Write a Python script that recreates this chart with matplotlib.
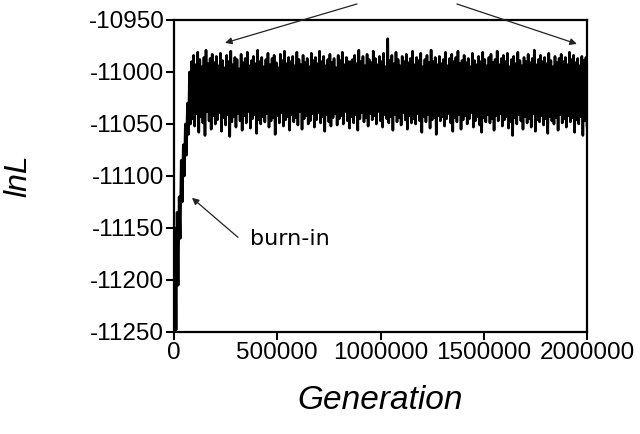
import matplotlib
matplotlib.use("Agg")
import matplotlib.pyplot as plt
import numpy as np

# MCMC trace: lnL sampled every 5000 generations
sample_every = 5000

# burn-in samples, generation 0 .. 80000
burnin = [-11262, -11150, -11248, -11135, -11205, -11120, -11160, -11085, -11125,
          -11070, -11100, -11050, -11080, -11030, -11060, -11000, -11050]

# stationary phase: local highs and lows of the trace (they alternate)
peaks = [
    -10990, -10984, -10993, -10981, -10988, -10995, -10986, -10979, -10992, -10987, -10983, -10991,
    -10985, -10994, -10982, -10989, -10996, -10984, -10990, -10980, -10993, -10986, -10988, -10997,
    -10983, -10991, -10987, -10981, -10994, -10989, -10985, -10992, -10979, -10990, -10986, -10995,
    -10988, -10982, -10993, -10987, -10984, -10991, -10996, -10983, -10989, -10980, -10992, -10986,
    -10990, -10985, -10994, -10981, -10988, -10993, -10984, -10991, -10987, -10995, -10982, -10989,
    -10986, -10992, -10980, -10990, -10985, -10994, -10988, -10983, -10991, -10987, -10996, -10984,
    -10989, -10981, -10993, -10986, -10990, -10990, -10988, -10984, -10992, -10979, -10990, -10985,
    -10994, -10983, -10988, -10991, -10980, -10987, -10993, -10985, -10990, -10982, -10995, -10968,
    -10989, -10984, -10992, -10981, -10988, -10994, -10985, -10990, -10983, -10991, -10987, -10980,
    -10993, -10986, -10989, -10982, -10995, -10988, -10984, -10991, -10979, -10990, -10986, -10993,
    -10985, -10992, -10988, -10981, -10994, -10987, -10983, -10990, -10986, -10980, -10992, -10989,
    -10984, -10991, -10987, -10995, -10982, -10989, -10993, -10985, -10990, -10981, -10988, -10994,
    -10986, -10983, -10991, -10988, -10980, -10993, -10987, -10984, -10990, -10982, -10995, -10988,
    -10985, -10992, -10981, -10989, -10994, -10986, -10990, -10983, -10991, -10987, -10979, -10993,
    -10988, -10984, -10990, -10986, -10992, -10982, -10989, -10995, -10985, -10991, -10987, -10983,
    -10990, -10986, -10993, -10981, -10988, -10984, -10991, -10987, -10994, -10985, -10989, -10986,
]
troughs = [
    -11045, -11052, -11040, -11058, -11043, -11049, -11061, -11038, -11047, -11055, -11042, -11050,
    -11046, -11039, -11057, -11044, -11051, -11041, -11062, -11048, -11043, -11053, -11040, -11047,
    -11056, -11042, -11049, -11038, -11054, -11045, -11041, -11059, -11046, -11050, -11043, -11048,
    -11040, -11053, -11047, -11044, -11060, -11042, -11049, -11039, -11052, -11046, -11043, -11056,
    -11041, -11048, -11044, -11051, -11038, -11055, -11045, -11042, -11050, -11047, -11040, -11053,
    -11046, -11039, -11049, -11043, -11057, -11041, -11048, -11052, -11044, -11040, -11051, -11045,
    -11042, -11050, -11038, -11047, -11054, -11043, -11049, -11041, -11056, -11045, -11039, -11048,
    -11044, -11052, -11040, -11046, -11042, -11050, -11038, -11047, -11053, -11041, -11045, -11049,
    -11043, -11056, -11041, -11048, -11044, -11051, -11039, -11046, -11055, -11042, -11049, -11045,
    -11050, -11040, -11047, -11058, -11043, -11048, -11041, -11054, -11046, -11044, -11060, -11042,
    -11047, -11043, -11052, -11045, -11040, -11049, -11057, -11044, -11048, -11041, -11055, -11046,
    -11042, -11050, -11045, -11039, -11053, -11047, -11043, -11051, -11058, -11044, -11048, -11041,
    -11049, -11045, -11056, -11042, -11047, -11040, -11052, -11046, -11043, -11054, -11048, -11061,
    -11044, -11050, -11041, -11047, -11055, -11043, -11049, -11045, -11053, -11040, -11057, -11046,
    -11048, -11042, -11051, -11045, -11059, -11043, -11047, -11050, -11044, -11056, -11041, -11049,
    -11045, -11053, -11042, -11048, -11044, -11058, -11046, -11050, -11043, -11061, -11047, -11052,
]

# interleave highs and lows into one trace
stationary = np.column_stack([peaks, troughs]).ravel()
lnL = np.concatenate([burnin, stationary])
generation = np.arange(len(lnL)) * sample_every

plt.rcParams['font.family'] = ['Liberation Sans', 'DejaVu Sans']
plt.rcParams['axes.unicode_minus'] = False

fig = plt.figure(figsize=(6.4, 4.34), dpi=100)
ax = fig.add_axes([174/640, 1-332/434, 413/640, 312/434])

ax.plot(generation, lnL, color='black', linewidth=1.9)

ax.set_xlim(0, 2000000)
ax.set_ylim(-11250, -10950)
ax.set_xticks([0, 500000, 1000000, 1500000, 2000000])
ax.set_yticks([-11250, -11200, -11150, -11100, -11050, -11000, -10950])
ax.ticklabel_format(style='plain', useOffset=False)

for s in ax.spines.values():
    s.set_linewidth(1.6)
ax.tick_params(direction='out', length=6, width=1.5, labelsize=17.5, pad=1)

ax.set_ylabel('lnL', fontsize=23, style='italic')
ax.yaxis.set_label_coords(-0.341, 0.5)
ax.set_xlabel('Generation', fontsize=24, style='italic')
ax.xaxis.set_label_coords(0.5, -0.218)
ax.xaxis.label.set_va('center')

# arrows
arrow = dict(arrowstyle='-|>', color='#222222', lw=0.9, mutation_scale=10,
             shrinkA=0, shrinkB=0)
ax.annotate('', xy=(87000, -11121), xytext=(310000, -11159), arrowprops=arrow)
ax.text(370000, -11161, 'burn-in', fontsize=16, family='DejaVu Sans',
        ha='left', va='center')
ax.annotate('', xy=(247000, -10972), xytext=(886000, -10934.6),
            arrowprops=arrow, annotation_clip=False)
ax.annotate('', xy=(1951000, -10973), xytext=(1370000, -10934.6),
            arrowprops=arrow, annotation_clip=False)

fig.savefig('out.png', dpi=100)
